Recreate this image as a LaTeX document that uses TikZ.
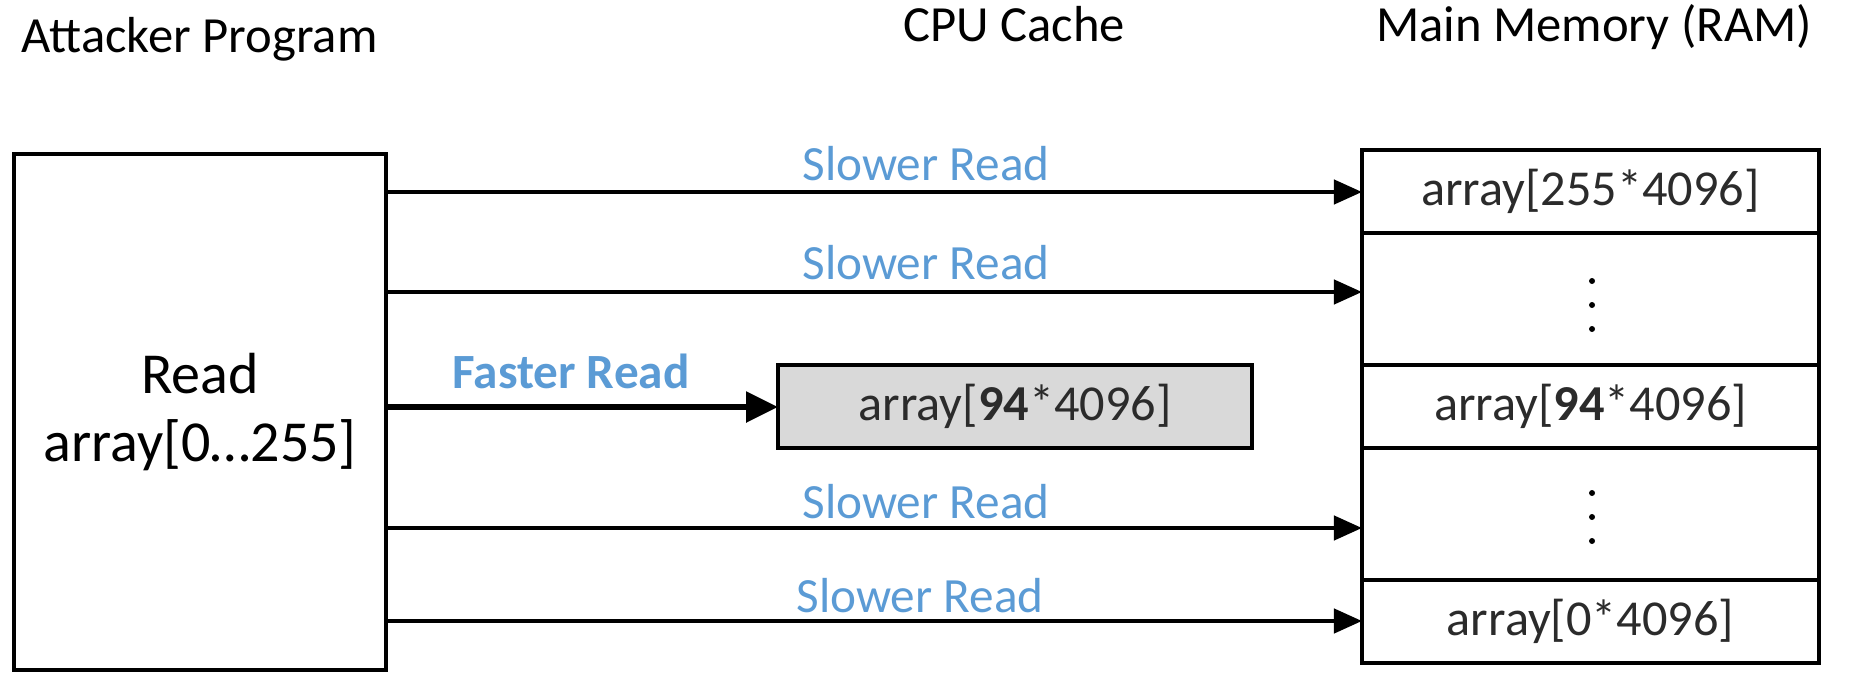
\documentclass[tikz,border=0pt]{standalone}
\usepackage{fontspec}
\setmainfont{Carlito}
\usetikzlibrary{arrows.meta}
\definecolor{lblblue}{HTML}{5B9BD5}
\definecolor{txtgray}{HTML}{2B2B2B}
\definecolor{cachefill}{HTML}{D9D9D9}
\begin{document}
\begin{tikzpicture}[x=0.01cm,y=-0.01cm,
  box/.style={draw=black,line width=1.15pt,inner sep=0pt,outer sep=0pt},
  memrow/.style={box,minimum width=4.57cm,text=txtgray,font=\fontsize{14.3}{16}\selectfont},
  arr/.style={line width=0.9pt,-{Triangle[length=8pt,width=7pt]}},
  fastarr/.style={line width=1.6pt,-{Triangle[length=9pt,width=8.5pt]}},
  lbl/.style={text=lblblue,font=\fontsize{14}{16}\selectfont,anchor=base},
  head/.style={font=\fontsize{14.4}{16}\selectfont,anchor=base}]
\useasboundingbox (0,0) rectangle (1849,682);
% headings
\node[head,anchor=base west,inner sep=0pt] (hprog) at (21,53) {Attacker Program};
\node[head] (hcache) at (1014,42) {CPU Cache};
\node[head] (hmem) at (1594,42) {Main Memory (RAM)};
% attacker box
\node[box,minimum width=3.72cm,minimum height=5.16cm,align=center,
      font=\fontsize{16.5}{19.5}\selectfont] (prog) at (200,412) {Read\\array[0…255]};
% memory rows
\node[memrow,minimum height=0.83cm] (m1) at (1590.5,191.5) {array[255*4096]};
\node[memrow,minimum height=1.32cm] (m2) at (1590.5,299) {};
\node[memrow,minimum height=0.83cm] (m3) at (1590.5,406.5) {array[\textbf{94}*4096]};
\node[memrow,minimum height=1.32cm] (m4) at (1590.5,514) {};
\node[memrow,minimum height=0.83cm] (m5) at (1590.5,621.5) {array[0*4096]};
% dots
\foreach \yy in {281,305,329,493,517,541} \fill (1592,\yy) circle (3);
% cache
\node[box,fill=cachefill,minimum width=4.74cm,minimum height=0.83cm,text=txtgray,
      font=\fontsize{14.3}{16}\selectfont] (cache) at (1015,406.5) {array[\textbf{94}*4096]};
% arrow rows
\coordinate (r1) at (0,192);
\coordinate (r2) at (0,292);
\coordinate (r3) at (0,407);
\coordinate (r4) at (0,528);
\coordinate (r5) at (0,621);
\draw[arr] (prog.east |- r1) -- (m1.west |- r1);
\draw[arr] (prog.east |- r2) -- (m2.west |- r2);
\draw[fastarr] (prog.east |- r3) -- (cache.west |- r3);
\draw[arr] (prog.east |- r4) -- (m4.west |- r4);
\draw[arr] (prog.east |- r5) -- (m5.west |- r5);
% labels
\node[lbl] (l1) at (926,180) {Slower Read};
\node[lbl] (l2) at (926,279) {Slower Read};
\node[lbl,font=\fontsize{14}{16}\selectfont\bfseries] (lf) at (571,388) {Faster Read};
\node[lbl] (l4) at (926,518) {Slower Read};
\node[lbl] (l5) at (920,612) {Slower Read};
\end{tikzpicture}
\end{document}
